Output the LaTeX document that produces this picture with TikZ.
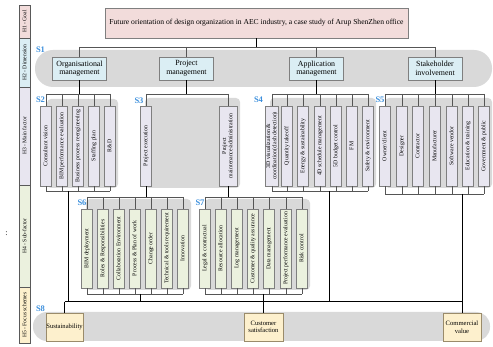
\documentclass[tikz,border=0pt]{standalone}
\usepackage{fontspec}
\setmainfont{Liberation Serif}
\usepackage{tikz}

\definecolor{boxline}{HTML}{7F7F7F}
\definecolor{hline}{HTML}{595959}
\definecolor{goalfill}{HTML}{F2DCDB}
\definecolor{dimfill}{HTML}{DBEEF4}
\definecolor{mainfill}{HTML}{E8E6F0}
\definecolor{subfill}{HTML}{EBF1DE}
\definecolor{focusfill}{HTML}{FDF0CD}
\definecolor{focusline}{HTML}{9A8B6A}
\definecolor{bandgray}{HTML}{D9D9D9}
\definecolor{slabelblue}{HTML}{3C8FDC}
\definecolor{bargray}{HTML}{555555}

\newcommand{\vlab}[1]{\rotatebox{90}{\begin{tabular}{@{}c@{}}#1\end{tabular}}}

\begin{document}
\begin{tikzpicture}[x=1pt,y=-1pt,
  goalbox/.style={draw=boxline,fill=goalfill,minimum width=303pt,minimum height=30pt,inner sep=0pt,font=\fontsize{7.6}{9}\selectfont},
  dimbox/.style={draw=boxline,fill=dimfill,minimum width=54pt,minimum height=23pt,inner sep=0pt,align=center,font=\fontsize{7.9}{8.6}\selectfont},
  mainbox/.style={draw=boxline,fill=mainfill,minimum width=11pt,minimum height=80pt,inner sep=0pt,font=\fontsize{5.8}{6.3}\selectfont},
  subbox/.style={mainbox,fill=subfill,minimum height=79pt},
  focusbox/.style={draw=focusline,fill=focusfill,minimum height=28pt,inner sep=0pt,align=center,font=\fontsize{6.6}{7.6}\selectfont},
  groupbg/.style={fill=bandgray,rounded corners=4pt},
  slabel/.style={text=slabelblue,inner sep=0pt,font=\fontsize{8.5}{9}\selectfont\bfseries},
  hlabel/.style={draw=hline,minimum width=11pt,inner sep=0pt,font=\fontsize{5.6}{6}\selectfont},
  barline/.style={draw=bargray,line width=0.8pt},
  stemline/.style={draw=black,line width=1pt}]
\useasboundingbox (0,0) rectangle (493,347);

% level band on the left
\node[hlabel,fill=goalfill,minimum height=33pt] (h1) at (24.5,21.5) {\rotatebox{90}{H1 - Goal}};
\node[hlabel,fill=dimfill,minimum height=49pt] (h2) at (24.5,62.5) {\rotatebox{90}{H2 - Dimension}};
\node[hlabel,fill=mainfill,minimum height=98pt] (h3) at (24.5,136) {\rotatebox{90}{H3 - Main factor}};
\node[hlabel,fill=subfill,minimum height=102pt] (h4) at (24.5,236) {\rotatebox{90}{H4 - Sub-factor}};
\node[hlabel,fill=focusfill,minimum height=56pt] (h5) at (24.5,315) {\rotatebox{90}{H5 - Focus schemes}};
\node[inner sep=0pt,font=\fontsize{8}{8}\selectfont] (colon) at (6.5,234) {:};

% grey bands and group shadows
\fill[bandgray,rounded corners=18pt] (35,50) rectangle (492,87);
\fill[bandgray,rounded corners=14pt] (33,312) rectangle (490,341);
\fill[groupbg] (47,99) rectangle (118,188);
\fill[groupbg] (145,98) rectangle (240,188);
\fill[groupbg] (270,98) rectangle (376,188);
\fill[groupbg] (385,98) rectangle (492,188);
\fill[groupbg] (86,199) rectangle (191,290);
\fill[groupbg] (205,199) rectangle (310,290);

% goal and dimensions
\node[goalbox] (goal) at (256.5,23) {Future orientation of design organization in AEC industry, a case study of Arup ShenZhen office};
\node[dimbox] (org) at (79.5,68.5) {Organisational\\management};
\node[dimbox] (proj) at (186.5,68.5) {Project\\management};
\node[dimbox] (app) at (316.5,68.5) {Application\\management};
\node[dimbox] (stake) at (435,68.5) {Stakeholder\\involvement};

% main factors
\node[mainbox] (s2b1) at (46,146) {\vlab{Consultant vision}};
\node[mainbox] (s2b2) at (62,146) {\vlab{BIM performance evaluation}};
\node[mainbox] (s2b3) at (78,146) {\vlab{Business process reengineering}};
\node[mainbox] (s2b4) at (94,146) {\vlab{Staffing plan}};
\node[mainbox] (s2b5) at (110,146) {\vlab{R\&D}};

\node[mainbox] (s3b1) at (146,146) {\vlab{Project execution}};
\node[mainbox,minimum width=18pt] (s3b2) at (228,146) {\vlab{Project\\maintenance/administration}};

\node[mainbox,minimum width=13pt] (s4b1) at (272,146) {\vlab{3D visualization \&\\coordination(clash detection)}};
\node[mainbox] (s4b2) at (287,146) {\vlab{Quantity takeoff}};
\node[mainbox] (s4b3) at (303,146) {\vlab{Energy \& sustainability}};
\node[mainbox] (s4b4) at (320,146) {\vlab{4D schedule management}};
\node[mainbox] (s4b5) at (336,146) {\vlab{5D budget control}};
\node[mainbox] (s4b6) at (352,146) {\vlab{FM}};
\node[mainbox] (s4b7) at (368,146) {\vlab{Safety \& environment}};

\node[mainbox] (s5b1) at (385,146) {\vlab{Owner/client}};
\node[mainbox] (s5b2) at (402,146) {\vlab{Designer}};
\node[mainbox] (s5b3) at (418,146) {\vlab{Contractor}};
\node[mainbox] (s5b4) at (435,146) {\vlab{Manufacturer}};
\node[mainbox] (s5b5) at (452,146) {\vlab{Software vendor}};
\node[mainbox] (s5b6) at (468,146) {\vlab{Education \& training}};
\node[mainbox] (s5b7) at (484,146) {\vlab{Government \& public}};

% sub-factors
\node[subbox] (s6b1) at (87,248.5) {\vlab{BIM deployment}};
\node[subbox] (s6b2) at (103,248.5) {\vlab{Roles \& Responsibilities}};
\node[subbox] (s6b3) at (119,248.5) {\vlab{Collaboration Environment}};
\node[subbox] (s6b4) at (135,248.5) {\vlab{Process \& Plan of work}};
\node[subbox] (s6b5) at (151,248.5) {\vlab{Change order}};
\node[subbox] (s6b6) at (167,248.5) {\vlab{Technical \& tools requirement}};
\node[subbox] (s6b7) at (183,248.5) {\vlab{Innovation}};

\node[subbox] (s7b1) at (205,248.5) {\vlab{Legal \& contractual}};
\node[subbox] (s7b2) at (221,248.5) {\vlab{Resource allocation}};
\node[subbox] (s7b3) at (237,248.5) {\vlab{Log management}};
\node[subbox] (s7b4) at (253,248.5) {\vlab{Customer \& quality assurance}};
\node[subbox] (s7b5) at (269,248.5) {\vlab{Data management}};
\node[subbox] (s7b6) at (286,248.5) {\vlab{Project performance evaluation}};
\node[subbox] (s7b7) at (302,248.5) {\vlab{Risk control}};

% focus schemes
\node[focusbox,minimum width=37pt] (sus) at (64.5,327) {Sustainability};
\node[focusbox,minimum width=39pt] (cus) at (263.5,327) {Customer\\satisfaction};
\node[focusbox,minimum width=38pt] (com) at (462,327) {Commercial\\value};

% section labels
\node[slabel] (l1) at (40.5,49.5) {S1};
\node[slabel] (l2) at (40.5,100) {S2};
\node[slabel] (l3) at (139,101) {S3};
\node[slabel] (l4) at (258.5,100) {S4};
\node[slabel] (l5) at (380,100) {S5};
\node[slabel] (l6) at (82,203) {S6};
\node[slabel] (l7) at (200,203) {S7};
\node[slabel] (l8) at (40.5,309) {S8};

% bar heights
\coordinate (t1) at (0,47);
\coordinate (t2) at (0,94);
\coordinate (t6) at (0,197);
\coordinate (b2) at (0,191);
\coordinate (b5) at (0,194);
\coordinate (b6) at (0,294);
\coordinate (col) at (0,302);
\coordinate (s2out) at (68,191);
\coordinate (s4out) at (329,191);
\coordinate (s6out) at (140,294);

% goal to dimensions
\draw[stemline] (goal.south) -- (goal.south |- t1);
\draw[barline] (org.north |- t1) -- (stake.north |- t1);
\foreach \n in {org,proj,app,stake} \draw[barline] (\n.north |- t1) -- (\n.north);

% dimensions to main factors
\draw[stemline] (org.south) -- (org.south |- t2);
\draw[barline] (s2b1.north |- t2) -- (s2b5.north |- t2);
\foreach \i in {1,...,5} \draw[barline] (s2b\i.north |- t2) -- (s2b\i.north);
\draw[stemline] (proj.south) -- (proj.south |- t2);
\draw[barline] (s3b1.north |- t2) -- (s3b2.north |- t2);
\foreach \i in {1,2} \draw[barline] (s3b\i.north |- t2) -- (s3b\i.north);
\draw[stemline] (app.south) -- (app.south |- t2);
\draw[barline] (s4b1.north |- t2) -- (s4b7.north |- t2);
\foreach \i in {1,...,7} \draw[barline] (s4b\i.north |- t2) -- (s4b\i.north);
\draw[stemline] (stake.south) -- (stake.south |- t2);
\draw[barline] (s5b1.north |- t2) -- (s5b7.north |- t2);
\foreach \i in {1,...,7} \draw[barline] (s5b\i.north |- t2) -- (s5b\i.north);

% main factors, lower bars
\foreach \i in {1,...,5} \draw[barline] (s2b\i.south) -- (s2b\i.south |- b2);
\draw[barline] (s2b1.south |- b2) -- (s2b5.south |- b2);
\foreach \i in {1,...,7} \draw[barline] (s4b\i.south) -- (s4b\i.south |- b2);
\draw[barline] (s4b1.south |- b2) -- (s4b7.south |- b2);
\foreach \i in {1,...,7} \draw[barline] (s5b\i.south) -- (s5b\i.south |- b5);
\draw[barline] (s5b1.south |- b5) -- (s5b7.south |- b5);

% project factors to sub-factors
\draw[stemline] (s3b1.south) -- (s3b1.south |- t6);
\draw[stemline] (s3b2.south) -- (s3b2.south |- t6);
\draw[barline] (s6b1.north |- t6) -- (s6b7.north |- t6);
\foreach \i in {1,...,7} \draw[barline] (s6b\i.north |- t6) -- (s6b\i.north);
\draw[barline] (s7b1.north |- t6) -- (s7b7.north |- t6);
\foreach \i in {1,...,7} \draw[barline] (s7b\i.north |- t6) -- (s7b\i.north);
\foreach \i in {1,...,7} \draw[barline] (s6b\i.south) -- (s6b\i.south |- b6);
\draw[barline] (s6b1.south |- b6) -- (s6b7.south |- b6);
\foreach \i in {1,...,7} \draw[barline] (s7b\i.south) -- (s7b\i.south |- b6);
\draw[barline] (s7b1.south |- b6) -- (s7b7.south |- b6);

% down to focus schemes
\draw[stemline] (s2out) -- (s2out |- col);
\draw[stemline] (s4out) -- (s4out |- col);
\draw[stemline] (s6out) -- (s6out |- col);
\draw[stemline] (sus.north |- col) -- (com.north |- col);
\draw[stemline] (sus.north |- col) -- (sus.north);
\draw[stemline] (cus.north |- b6) -- (cus.north);
\draw[stemline] (com.north |- b5) -- (com.north);
\end{tikzpicture}
\end{document}
